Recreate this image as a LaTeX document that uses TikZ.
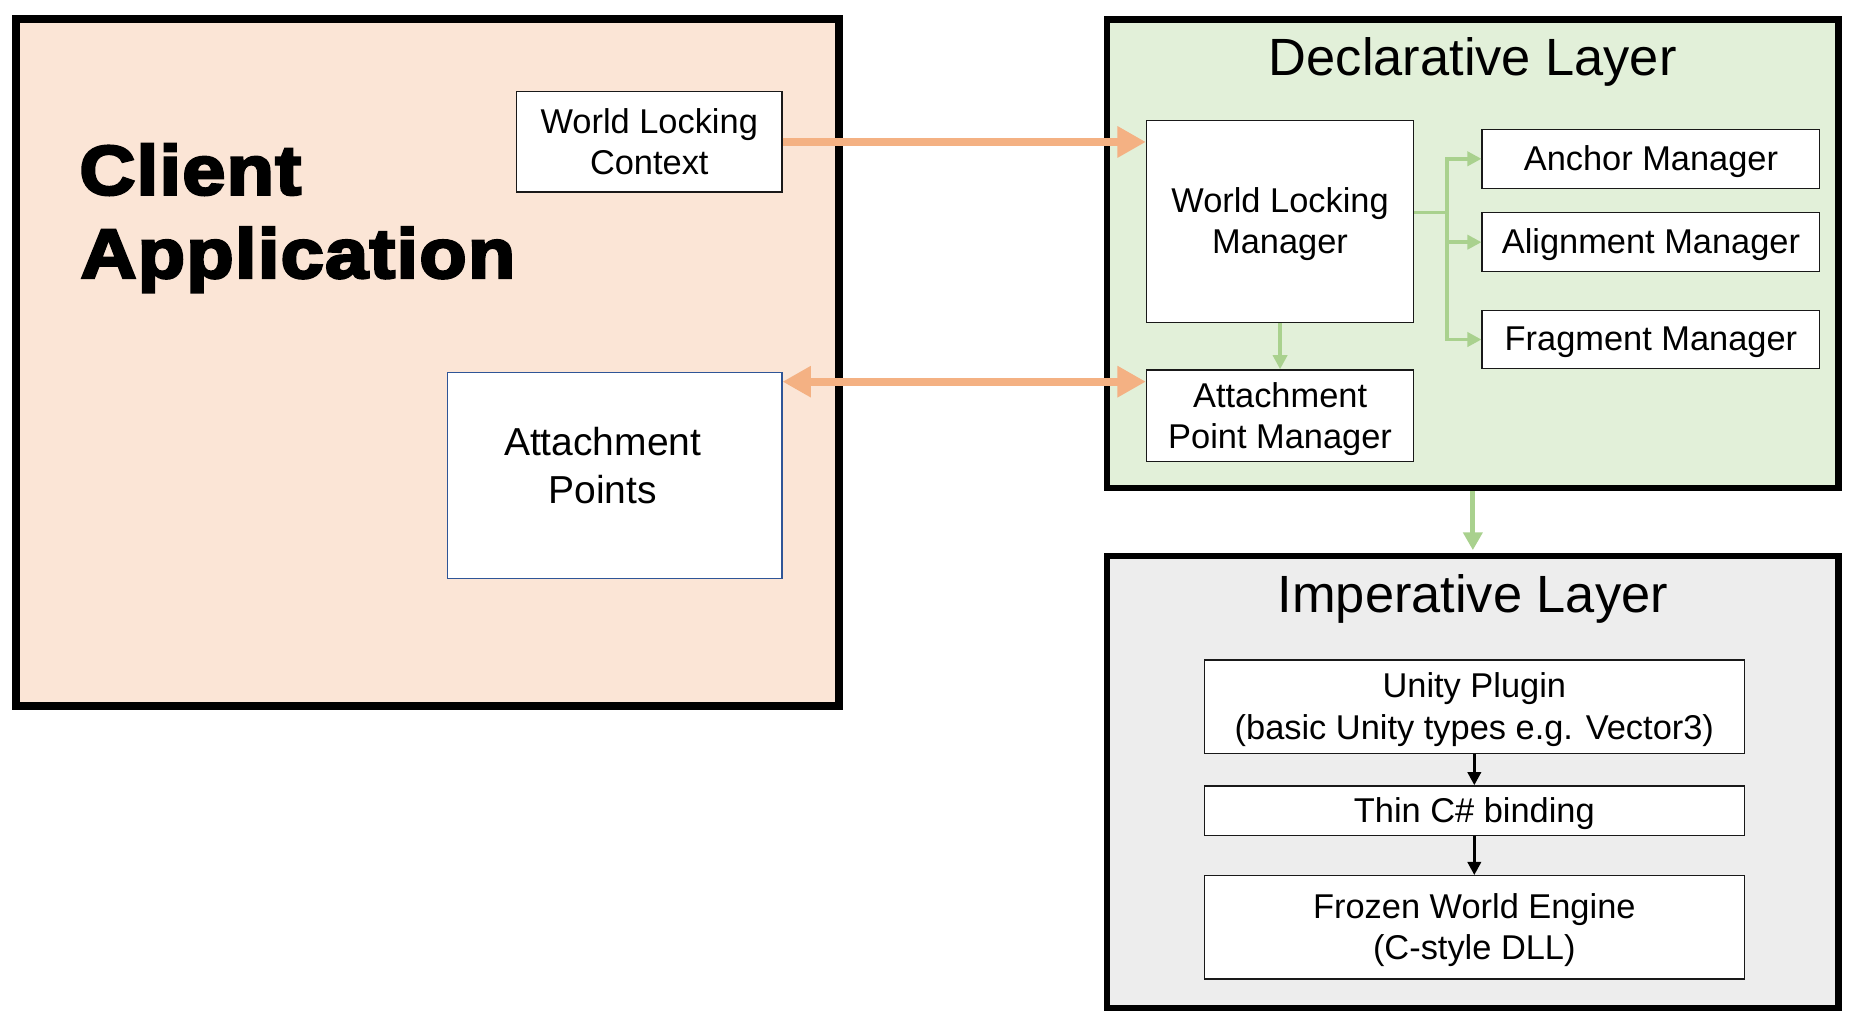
\documentclass[tikz,border=0pt]{standalone}
\usepackage{fontspec}
\setmainfont{Liberation Sans}
\newfontfamily\heavyfont{Liberation Sans Bold}[FakeStretch=1.11,FakeBold=4,LetterSpace=2]
\usetikzlibrary{arrows.meta,fit}
\definecolor{peach}{HTML}{FBE5D6}
\definecolor{lgreen}{HTML}{E2F0D9}
\definecolor{lgray}{HTML}{EDEDED}
\definecolor{orarrow}{HTML}{F4B183}
\definecolor{grarrow}{HTML}{A9D18E}
\definecolor{apblue}{HTML}{2F5597}
\begin{document}
\begin{tikzpicture}[x=0.59025pt,y=-0.59025pt,
  wh/.style 2 args={minimum width=#1*0.59025pt,minimum height=#2*0.59025pt},
  box/.style={draw=black!90,line width=0.75pt,fill=white,inner sep=0pt,align=center,
    text depth=0.7pt,font={\fontsize{17.2pt}{20.6pt}\selectfont}},
  outerbox/.style={draw=black,inner sep=0pt},
  titletext/.style={inner sep=0pt,anchor=base,font={\fontsize{26.2pt}{30pt}\selectfont}},
  bigtext/.style={inner sep=0pt,anchor=base west,font={\heavyfont\fontsize{34.8pt}{41.5pt}\selectfont}},
  aptext/.style={inner sep=0pt,anchor=base,font={\fontsize{19.5pt}{24pt}\selectfont}},
  orarr/.style={draw=orarrow,line width=4.1pt,-{Triangle[length=14.2pt,width=14.8pt]}},
  orarrboth/.style={draw=orarrow,line width=4.1pt,{Triangle[length=14.2pt,width=14.8pt]}-{Triangle[length=14.2pt,width=14.8pt]}},
  grline/.style={draw=grarrow,line width=1.8pt},
  grarr/.style={draw=grarrow,line width=1.8pt,-{Triangle[length=7pt,width=7pt]}},
  grarrbig/.style={draw=grarrow,line width=2.6pt,-{Triangle[length=8.9pt,width=9.4pt]}},
  blarr/.style={draw=black,line width=1.3pt,-{Triangle[length=6.5pt,width=6.7pt]}}
]
\useasboundingbox (0,0) rectangle (1568,869);
% client application
\node[outerbox,line width=4.1pt,fill=peach,fit={(13.6,16)(711,598)}] (client) {};
\node[bigtext] (clientA) at (67,164.7) {Client};
\node[bigtext] (clientB) at (68,235.3) {Application};
\node[box,wh={224.6}{85.1}] (wlc) at (550,120.25) {World Locking\\Context};
\node[box,draw=apblue,line width=0.7pt,fit={(379.3,315.4)(662.3,489.8)}] (ap) {};
\node[aptext] (apA) at (510.5,385.6) {Attachment};
\node[aptext] (apB) at (510.5,426.2) {Points};
% declarative layer
\node[outerbox,line width=3.1pt,fill=lgreen,fit={(937.9,16.5)(1557.4,413.7)}] (decl) {};
\node[titletext] (decltitle) at (1247.6,64) {Declarative Layer};
\node[box,wh={226.1}{170.9}] (wlm) at (1084.35,187.65) {World Locking\\Manager};
\node[box,wh={226.1}{77.7}] (apm) at (1084.35,352.25) {Attachment\\Point Manager};
\node[box,wh={285.9}{50}] (anchor) at (1398.55,134.5) {Anchor Manager};
\node[box,wh={285.9}{49.9}] (align) at (1398.55,205.15) {Alignment Manager};
\node[box,wh={285.9}{48.8}] (frag) at (1398.55,287.6) {Fragment Manager};
% imperative layer
\node[outerbox,line width=3.1pt,fill=lgray,fit={(937.9,471.2)(1557.4,853.7)}] (imp) {};
\node[titletext] (imptitle) at (1247.6,518.7) {Imperative Layer};
\node[box,wh={457.4}{79.4}] (unity) at (1248.9,598.6) {Unity Plugin\\(basic Unity types e.g. Vector3)};
\node[box,wh={457.4}{41.9}] (thin) at (1248.9,686.65) {Thin C\# binding};
\node[box,wh={457.4}{87.7}] (frozen) at (1248.9,785.65) {Frozen World Engine\\(C-style DLL)};
% connectors
\draw[orarr] (wlc.east) -- (wlc.east -| wlm.west);
\coordinate (ay) at (0,323.3);
\draw[orarrboth] (ap.east |- ay) -- (apm.west |- ay);
\coordinate (trunk) at (1225.9,179.9);
\draw[grline] (wlm.east |- trunk) -- (trunk);
\draw[grarr] (trunk) |- (anchor.west);
\draw[grarr] (trunk) |- (align.west);
\draw[grarr] (trunk) |- (frag.west);
\draw[grarr] (wlm.south) -- (apm.north);
\draw[grarrbig,shorten >=1.5pt] (decl.south) -- (imp.north);
\draw[blarr] (unity.south) -- (thin.north);
\draw[blarr] (thin.south) -- (frozen.north);
\end{tikzpicture}
\end{document}
